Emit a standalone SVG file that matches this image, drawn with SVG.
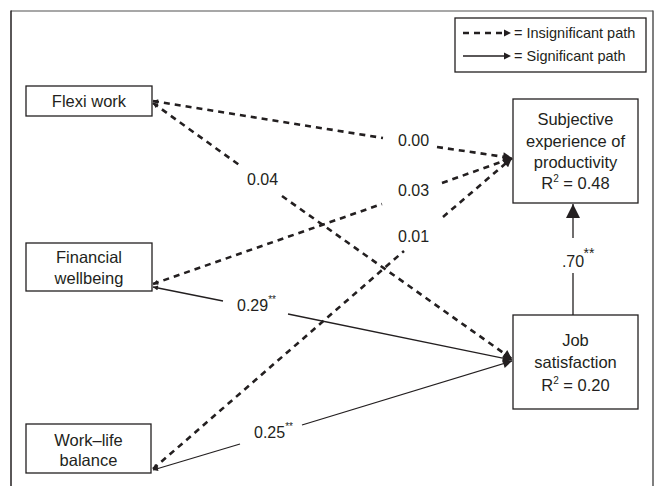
<svg xmlns="http://www.w3.org/2000/svg" width="656" height="486" viewBox="0 0 656 486">
<defs>
<style>
text{font-family:"Liberation Sans",Arial,sans-serif;fill:#231f20;}
.node rect{fill:#fff;stroke:#231f20;stroke-width:1.3;}
.nt{font-size:16.5px;text-anchor:middle;}
.lbl{font-size:16px;}
.sup{font-size:10px;}
.dash{fill:none;stroke:#231f20;stroke-width:2.6;stroke-dasharray:6 5;}
.solid{fill:none;stroke:#231f20;stroke-width:1.3;}
.lg{font-size:14.5px;}
</style>
<marker id="ah" viewBox="0 0 10 10" refX="10" refY="5" markerWidth="10" markerHeight="9" markerUnits="userSpaceOnUse" orient="auto">
<path d="M0,0 L10,5 L0,10 z" fill="#231f20"/>
</marker>
<marker id="ahs" viewBox="0 0 10 10" refX="0" refY="5" markerWidth="6" markerHeight="5" markerUnits="userSpaceOnUse" orient="auto">
<path d="M10,0 L0,5 L10,10 z" fill="#231f20"/>
</marker>
<marker id="ahb" viewBox="0 0 10 10" refX="10" refY="5" markerWidth="15" markerHeight="14" markerUnits="userSpaceOnUse" orient="auto">
<path d="M0,0 L10,5 L0,10 z" fill="#231f20"/>
</marker>
</defs>
<rect width="656" height="486" fill="#fff"/>
<g id="frame">
<line x1="11" y1="11" x2="653" y2="11" stroke="#8a8a8a" stroke-width="1.5"/>
<line x1="11" y1="10.5" x2="11" y2="486" stroke="#231f20" stroke-width="1.5"/>
<line x1="653" y1="10.5" x2="653" y2="486" stroke="#555" stroke-width="1.5"/>
</g>
<g id="legend">
<rect x="455" y="18" width="191" height="54" fill="#fff" stroke="#231f20" stroke-width="1.3"/>
<line class="dash" x1="463" y1="33" x2="504" y2="33" stroke-width="2.2" stroke-dasharray="5 5"/>
<path d="M504,29.5 L511,33 L504,36.5 z" fill="#231f20"/>
<text class="lg" x="514" y="38">= Insignificant path</text>
<line class="solid" x1="463" y1="56" x2="505" y2="56" stroke-width="1.8"/>
<path d="M504,52.5 L511,56 L504,59.5 z" fill="#231f20"/>
<text class="lg" x="514" y="61">= Significant path</text>
</g>
<g id="connectors">
<!-- Flexi work -> Subjective (0.00) -->
<path class="dash" d="M153,101 L383,138" marker-start="url(#ahs)"/>
<path class="dash" d="M437,147 L512,158" marker-end="url(#ah)"/>
<text class="lbl" x="398" y="146">0.00</text>
<!-- Flexi work -> Job satisfaction (0.04) -->
<path class="dash" d="M153,103 L242,167" marker-start="url(#ahs)"/>
<path class="dash" d="M282,196 L512,359" marker-end="url(#ah)"/>
<text class="lbl" x="247" y="185">0.04</text>
<!-- Financial wellbeing -> Subjective (0.03) -->
<path class="dash" d="M153,284 L382,204" marker-start="url(#ahs)"/>
<path class="dash" d="M442,183 L512,158" marker-end="url(#ah)"/>
<text class="lbl" x="398" y="196">0.03</text>
<!-- Financial wellbeing -> Job satisfaction (0.29**) -->
<path class="solid" d="M153,287 L223,301" marker-start="url(#ahs)"/>
<path class="solid" d="M288,314 L512,360" marker-end="url(#ah)"/>
<text class="lbl" x="237" y="311">0.29<tspan class="sup" dy="-8">**</tspan></text>
<!-- Work-life balance -> Subjective (0.01) -->
<path class="dash" d="M153,469 L404,251" marker-start="url(#ahs)"/>
<path class="dash" d="M443,217 L512,158" marker-end="url(#ah)"/>
<text class="lbl" x="398" y="242">0.01</text>
<!-- Work-life balance -> Job satisfaction (0.25**) -->
<path class="solid" d="M153,470 L240,444" marker-start="url(#ahs)"/>
<path class="solid" d="M302,425 L512,361" marker-end="url(#ah)"/>
<text class="lbl" x="254" y="438">0.25<tspan class="sup" dy="-8">**</tspan></text>
<!-- Job satisfaction -> Subjective (.70**) -->
<path class="solid" d="M573,315 L573,273"/>
<path class="solid" d="M573,238 L573,204" marker-end="url(#ahb)"/>
<text class="lbl" x="573" y="267" text-anchor="middle">.70</text>
<text x="589" y="258" font-size="14px" text-anchor="middle">**</text>
</g>
<g id="flexi" class="node">
<rect x="26" y="86" width="126" height="30"/>
<text class="nt" x="89" y="107">Flexi work</text>
</g>
<g id="financial" class="node">
<rect x="26" y="243" width="126" height="48"/>
<text class="nt" x="89" y="263">Financial</text>
<text class="nt" x="89" y="284">wellbeing</text>
</g>
<g id="worklife" class="node">
<rect x="26" y="424" width="125" height="49"/>
<text class="nt" x="88.5" y="446">Work–life</text>
<text class="nt" x="88.5" y="466">balance</text>
</g>
<g id="subjective" class="node">
<rect x="513" y="99" width="125" height="104"/>
<text class="nt" x="575.5" y="125">Subjective</text>
<text class="nt" x="575.5" y="147">experience of</text>
<text class="nt" x="575.5" y="168">productivity</text>
<text class="nt" x="575.5" y="189">R<tspan font-size="10px" dy="-7">2</tspan><tspan dy="7"> = 0.48</tspan></text>
</g>
<g id="job" class="node">
<rect x="513" y="315" width="125" height="94"/>
<text class="nt" x="575.5" y="346">Job</text>
<text class="nt" x="575.5" y="368">satisfaction</text>
<text class="nt" x="575.5" y="391">R<tspan font-size="10px" dy="-7">2</tspan><tspan dy="7"> = 0.20</tspan></text>
</g>
</svg>
